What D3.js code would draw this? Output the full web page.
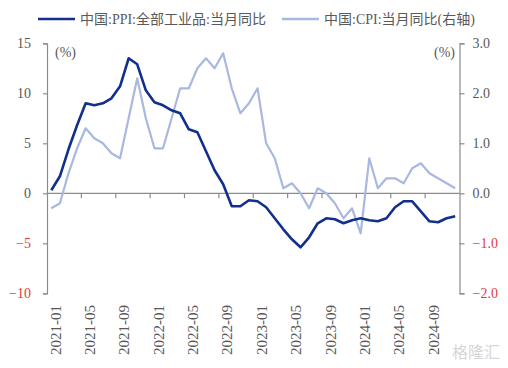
<!DOCTYPE html>
<html>
<head>
<meta charset="utf-8">
<script src="https://cdn.jsdelivr.net/npm/d3@7"></script>
<style>
  body { margin: 0; background: #fff; }
  svg text { font-family: "Liberation Serif", "Noto Sans CJK SC", serif; }
</style>
</head>
<body>
<script>
// months 2021-01 .. 2024-12
var months = [];
[2021, 2022, 2023, 2024].forEach(function(y) {
  for (var m = 1; m <= 12; m++) months.push(y + "-" + (m < 10 ? "0" + m : m));
});

var ppi = [0.3, 1.7, 4.4, 6.8, 9.0, 8.8, 9.0, 9.5, 10.7, 13.5, 12.9, 10.3,
           9.1, 8.8, 8.3, 8.0, 6.4, 6.1, 4.2, 2.3, 0.9, -1.3, -1.3, -0.7,
           -0.8, -1.4, -2.5, -3.6, -4.6, -5.4, -4.4, -3.0, -2.5, -2.6, -3.0, -2.7,
           -2.5, -2.7, -2.8, -2.5, -1.4, -0.8, -0.8, -1.8, -2.8, -2.9, -2.5, -2.3];

var cpi = [-0.3, -0.2, 0.4, 0.9, 1.3, 1.1, 1.0, 0.8, 0.7, 1.5, 2.3, 1.5,
           0.9, 0.9, 1.5, 2.1, 2.1, 2.5, 2.7, 2.5, 2.8, 2.1, 1.6, 1.8,
           2.1, 1.0, 0.7, 0.1, 0.2, 0.0, -0.3, 0.1, 0.0, -0.2, -0.5, -0.3,
           -0.8, 0.7, 0.1, 0.3, 0.3, 0.2, 0.5, 0.6, 0.4, 0.3, 0.2, 0.1];

var leftTicks = [-10, -5, 0, 5, 10, 15];
var rightTicks = [-2, -1, 0, 1, 2, 3];

var W = 508, H = 368;
var plotLeft = 47, plotRight = 459.5, plotTop = 43.3, plotBottom = 293.3;
var axisColor = "#8c8c8c", labelColor = "#595959", negColor = "#e03c3c";
var ppiColor = "#132f8c", cpiColor = "#a9b8e0";

var svg = d3.select("body").append("svg")
  .attr("width", W).attr("height", H);

var x = d3.scaleBand().domain(months).range([plotLeft, plotRight]);
var yL = d3.scaleLinear().domain([-10, 15]).range([plotBottom, plotTop]);
var yR = d3.scaleLinear().domain([-2, 3]).range([plotBottom, plotTop]);

var cx = function(d) { return x(d) + x.bandwidth() / 2; };

//--------------------------------------
// Axes
//--------------------------------------

var styleAxis = function(g, fmtNeg) {
  g.selectAll("path, line").attr("stroke", axisColor).attr("stroke-width", 1.2);
  g.selectAll("text")
    .attr("font-size", 14)
    .attr("fill", function(d) { return d < 0 ? negColor : labelColor; });
};

svg.append("g")
  .attr("transform", "translate(" + plotLeft + ",0)")
  .call(d3.axisLeft(yL).tickValues(leftTicks).tickSize(4).tickPadding(12))
  .call(styleAxis);

svg.append("g")
  .attr("transform", "translate(" + plotRight + ",0)")
  .call(d3.axisRight(yR).tickValues(rightTicks).tickSize(5).tickPadding(8)
    .tickFormat(d3.format(".1f")))
  .call(styleAxis);

// x axis line on zero, ticks at every 4th boundary
var zeroY = yL(0);
svg.append("line")
  .attr("x1", plotLeft).attr("x2", plotRight)
  .attr("y1", zeroY).attr("y2", zeroY)
  .attr("stroke", axisColor).attr("stroke-width", 1.2);

svg.append("g").selectAll("line")
  .data(months.filter(function(d, i) { return i > 0 && i % 4 == 0; }))
  .enter().append("line")
  .attr("x1", function(d) { return x(d); })
  .attr("x2", function(d) { return x(d); })
  .attr("y1", zeroY).attr("y2", zeroY + 5)
  .attr("stroke", axisColor).attr("stroke-width", 1.2);

svg.append("g").selectAll("text")
  .data(months.filter(function(d, i) { return i % 4 == 0; }))
  .enter().append("text")
  .attr("transform", function(d) { return "translate(" + (cx(d) + 4) + ",305) rotate(-90)"; })
  .attr("dy", "0.35em")
  .attr("text-anchor", "end")
  .attr("font-size", 15)
  .attr("fill", labelColor)
  .text(function(d) { return d; });

// unit labels
svg.append("text").attr("x", 55).attr("y", 57).attr("font-size", 14)
  .attr("fill", labelColor).text("(%)");
svg.append("text").attr("x", 455).attr("y", 57).attr("font-size", 14)
  .attr("text-anchor", "end").attr("fill", labelColor).text("(%)");

//--------------------------------------
// Lines
//--------------------------------------

var lineL = d3.line().x(function(d, i) { return cx(months[i]); }).y(function(d) { return yL(d); });
var lineR = d3.line().x(function(d, i) { return cx(months[i]); }).y(function(d) { return yR(d); });

svg.append("path").datum(cpi)
  .attr("d", lineR).attr("fill", "none")
  .attr("stroke", cpiColor).attr("stroke-width", 2.2)
  .attr("stroke-linejoin", "round");

svg.append("path").datum(ppi)
  .attr("d", lineL).attr("fill", "none")
  .attr("stroke", ppiColor).attr("stroke-width", 2.6)
  .attr("stroke-linejoin", "round");

//--------------------------------------
// Legend
//--------------------------------------

var legend = [
  {name: "中国:PPI:全部工业品:当月同比", color: ppiColor, x: 38},
  {name: "中国:CPI:当月同比(右轴)", color: cpiColor, x: 282}
];
var lg = svg.append("g").selectAll("g").data(legend).enter().append("g")
  .attr("transform", function(d) { return "translate(" + d.x + ",19)"; });
lg.append("line").attr("x1", 0).attr("x2", 37).attr("y1", 0).attr("y2", 0)
  .attr("stroke", function(d) { return d.color; }).attr("stroke-width", 2.6);
lg.append("text").attr("x", 42).attr("dy", "0.35em").attr("font-size", 14)
  .attr("fill", labelColor).text(function(d) { return d.name; });

// watermark
svg.append("text").attr("x", 500).attr("y", 358).attr("text-anchor", "end")
  .attr("font-size", 16).attr("fill", "#d6d6d6").text("格隆汇");
</script>
</body>
</html>
